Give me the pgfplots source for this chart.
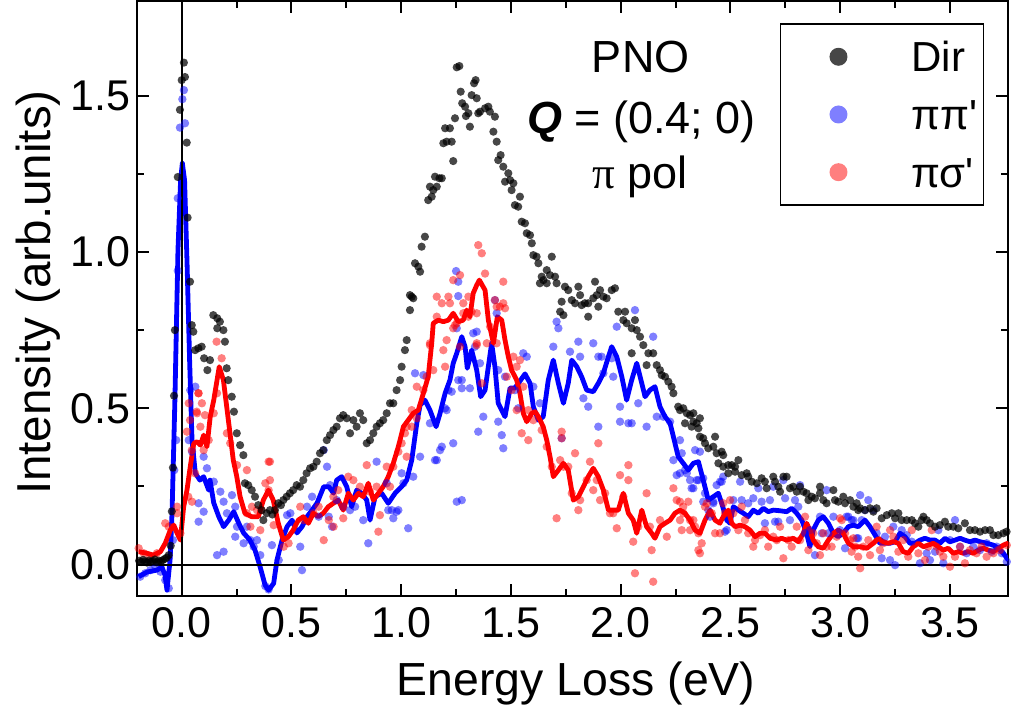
\documentclass[border=0pt]{standalone}
\usepackage{pgfplots}
\usepackage{pgfplotstable}
\pgfplotsset{compat=1.18}
\usepackage{fontspec}
\setmainfont{Liberation Sans}
\newfontfamily\plainsans{Liberation Sans}
\newfontfamily\serifgr{Liberation Serif}

\pgfplotstableread{
x y
-0.194 0.012
-0.185 0.008
-0.176 0.015
-0.167 0.010
-0.158 0.006
-0.149 0.013
-0.140 0.009
-0.131 0.011
-0.122 0.016
-0.113 0.007
-0.104 0.012
-0.095 0.010
-0.086 0.014
-0.077 0.018
-0.068 0.022
-0.059 0.030
-0.050 0.060
-0.045 0.170
-0.040 0.310
-0.035 0.540
-0.031 0.750
-0.018 1.240
-0.008 1.455
0.000 1.550
0.010 1.606
0.015 1.560
0.023 1.350
0.027 1.110
0.038 0.905
0.046 0.766
0.053 0.745
0.061 0.686
0.076 0.692
0.091 0.697
0.102 0.660
0.117 0.622
0.129 0.654
0.144 0.798
0.162 0.788
0.162 0.756
0.174 0.777
0.190 0.750
0.197 0.713
0.205 0.628
0.212 0.590
0.228 0.537
0.238 0.489
0.251 0.420
0.266 0.382
0.281 0.350
0.288 0.260
0.303 0.254
0.319 0.238
0.334 0.217
0.349 0.190
0.364 0.174
0.372 0.142
0.387 0.164
0.402 0.174
0.413 0.160
0.425 0.174
0.440 0.196
0.452 0.190
0.463 0.206
0.478 0.217
0.493 0.228
0.508 0.238
0.524 0.254
0.539 0.249
0.554 0.270
0.569 0.292
0.585 0.308
0.600 0.313
0.615 0.329
0.630 0.356
0.645 0.366
0.661 0.398
0.676 0.414
0.691 0.430
0.706 0.441
0.721 0.468
0.736 0.478
0.752 0.468
0.767 0.420
0.782 0.462
0.797 0.441
0.812 0.484
0.827 0.462
0.843 0.388
0.858 0.398
0.873 0.420
0.888 0.441
0.903 0.452
0.918 0.462
0.934 0.484
0.949 0.516
0.964 0.516
0.979 0.558
0.995 0.590
1.002 0.633
1.017 0.686
1.025 0.718
1.040 0.814
1.040 0.862
1.048 0.857
1.055 0.852
1.063 0.964
1.078 0.953
1.086 0.937
1.093 1.017
1.108 1.049
1.123 1.166
1.131 1.209
1.139 1.177
1.146 1.198
1.154 1.241
1.162 1.209
1.174 1.236
1.185 1.236
1.192 1.348
1.200 1.396
1.207 1.353
1.222 1.396
1.230 1.353
1.237 1.291
1.245 1.428
1.253 1.591
1.265 1.595
1.271 1.513
1.278 1.476
1.291 1.465
1.295 1.435
1.306 1.444
1.313 1.401
1.321 1.502
1.332 1.540
1.339 1.550
1.344 1.492
1.351 1.444
1.359 1.449
1.382 1.460
1.397 1.465
1.404 1.449
1.420 1.385
1.427 1.433
1.435 1.353
1.442 1.294
1.453 1.310
1.465 1.273
1.473 1.225
1.488 1.252
1.496 1.230
1.503 1.198
1.511 1.220
1.518 1.150
1.533 1.145
1.541 1.177
1.549 1.097
1.564 1.092
1.572 1.060
1.587 1.054
1.595 1.028
1.602 0.990
1.617 0.985
1.625 0.964
1.632 0.900
1.640 0.921
1.648 0.910
1.663 0.942
1.663 0.900
1.678 0.926
1.686 0.985
1.701 0.921
1.708 0.900
1.724 0.809
1.731 0.841
1.739 0.798
1.746 0.889
1.761 0.878
1.777 0.846
1.792 0.836
1.807 0.889
1.815 0.862
1.822 0.830
1.837 0.836
1.852 0.836
1.852 0.793
1.875 0.852
1.883 0.905
1.891 0.862
1.898 0.825
1.906 0.878
1.921 0.857
1.936 0.852
1.959 0.878
1.974 0.884
1.989 0.809
2.012 0.782
2.020 0.809
2.027 0.772
2.050 0.756
2.050 0.676
2.065 0.782
2.073 0.750
2.088 0.729
2.103 0.702
2.118 0.638
2.126 0.676
2.148 0.676
2.164 0.638
2.179 0.622
2.187 0.606
2.202 0.601
2.217 0.585
2.232 0.569
2.240 0.548
2.262 0.505
2.270 0.494
2.285 0.500
2.293 0.452
2.301 0.484
2.316 0.478
2.323 0.441
2.331 0.484
2.331 0.457
2.346 0.452
2.354 0.436
2.361 0.468
2.361 0.409
2.376 0.404
2.384 0.388
2.399 0.372
2.422 0.377
2.430 0.409
2.437 0.356
2.445 0.324
2.460 0.361
2.467 0.350
2.467 0.313
2.490 0.318
2.490 0.292
2.506 0.318
2.521 0.313
2.521 0.297
2.536 0.334
2.551 0.286
2.574 0.292
2.581 0.281
2.597 0.265
2.620 0.260
2.642 0.276
2.657 0.265
2.665 0.244
2.695 0.281
2.703 0.265
2.718 0.249
2.726 0.233
2.741 0.281
2.756 0.281
2.771 0.244
2.786 0.249
2.802 0.233
2.817 0.249
2.832 0.233
2.847 0.228
2.855 0.206
2.870 0.217
2.885 0.212
2.908 0.249
2.908 0.228
2.923 0.206
2.938 0.196
2.969 0.238
2.976 0.206
2.991 0.201
3.014 0.217
3.022 0.196
3.045 0.206
3.060 0.185
3.075 0.196
3.082 0.174
3.091 0.180
3.113 0.174
3.136 0.180
3.151 0.169
3.166 0.180
3.189 0.148
3.212 0.158
3.235 0.164
3.250 0.148
3.265 0.164
3.280 0.142
3.303 0.142
3.326 0.142
3.341 0.132
3.356 0.121
3.371 0.142
3.379 0.153
3.394 0.142
3.409 0.132
3.432 0.121
3.454 0.126
3.477 0.137
3.492 0.121
3.515 0.121
3.538 0.116
3.568 0.132
3.591 0.110
3.614 0.110
3.637 0.105
3.660 0.110
3.682 0.110
3.698 0.094
3.720 0.094
3.743 0.100
3.758 0.105
}\dirdata

\pgfplotstableread{
x y
-0.189 -0.039
-0.166 -0.028
-0.143 -0.018
-0.120 -0.007
-0.097 -0.023
-0.075 -0.050
-0.059 -0.076
-0.040 0.078
-0.034 0.302
-0.025 0.398
-0.018 1.172
-0.008 1.398
0.015 1.412
0.003 1.489
0.010 1.518
-0.018 0.940
0.039 0.558
0.062 0.569
0.032 0.398
0.047 0.361
0.100 0.345
0.077 0.196
0.115 0.308
0.100 0.169
0.077 0.137
0.146 0.265
0.176 0.233
0.191 0.201
0.161 0.030
0.191 0.041
0.206 0.164
0.229 0.222
0.244 0.185
0.252 0.121
0.244 0.089
0.282 0.068
0.297 0.121
0.313 0.078
0.328 0.057
0.343 0.078
0.358 0.030
0.381 -0.069
0.396 -0.080
0.411 0.062
0.442 0.014
0.480 0.158
0.495 0.164
0.540 0.057
0.548 -0.018
0.571 0.185
0.594 0.217
0.624 0.153
0.647 0.366
0.662 0.313
0.670 0.153
0.685 0.121
0.676 0.254
0.706 0.206
0.736 0.185
0.767 0.174
0.790 0.185
0.827 0.142
0.850 0.068
0.888 0.329
0.934 0.260
0.957 0.174
0.979 0.169
1.002 0.292
1.032 0.116
1.055 0.281
1.063 0.612
1.101 0.606
1.131 0.452
1.185 0.377
1.162 0.334
1.200 0.500
1.215 0.558
1.237 0.388
1.253 0.756
1.260 0.590
1.276 0.564
1.313 0.564
1.336 0.697
1.344 0.745
1.250 0.939
1.260 0.905
1.260 0.859
1.253 0.201
1.276 0.206
0.941 0.174
0.964 0.148
0.987 0.174
1.010 0.260
1.086 0.345
1.154 0.334
1.177 0.366
1.207 0.494
1.230 0.553
1.276 0.590
1.328 0.740
1.359 0.644
1.374 0.473
1.351 0.425
1.442 0.457
1.458 0.414
1.465 0.372
1.427 0.846
1.435 0.804
1.442 0.622
1.473 0.601
1.518 0.558
1.533 0.500
1.556 0.676
1.572 0.665
1.602 0.569
1.632 0.516
1.693 0.697
1.708 0.777
1.716 0.756
1.731 0.404
1.769 0.681
1.807 0.713
1.815 0.665
1.830 0.532
1.852 0.505
1.875 0.708
1.898 0.665
1.898 0.441
1.913 0.665
1.921 0.612
1.959 0.660
1.966 0.601
1.982 0.761
1.997 0.505
1.997 0.457
2.035 0.452
2.050 0.452
2.065 0.814
2.080 0.516
2.118 0.441
2.148 0.729
2.164 0.473
2.194 0.473
2.225 0.457
2.240 0.334
2.255 0.286
2.278 0.356
2.293 0.302
2.316 0.270
2.323 0.244
2.354 0.270
2.376 0.276
2.399 0.174
2.422 0.201
2.453 0.265
2.467 0.281
2.270 0.398
2.339 0.366
2.361 0.361
2.301 0.292
2.270 0.292
2.331 0.244
2.346 0.270
2.376 0.201
2.384 0.228
2.437 0.254
2.460 0.265
2.422 0.196
2.407 0.153
2.483 0.110
2.475 0.105
2.513 0.206
2.544 0.265
2.551 0.206
2.581 0.196
2.604 0.212
2.627 0.244
2.642 0.201
2.657 0.132
2.680 0.206
2.695 0.249
2.703 0.137
2.718 0.137
2.741 0.270
2.749 0.212
2.771 0.142
2.794 0.206
2.809 0.185
2.817 0.254
2.840 0.100
2.862 0.110
2.885 0.030
2.908 0.153
2.916 0.100
2.938 0.238
2.946 0.100
2.969 0.153
2.999 0.110
3.037 0.153
3.060 0.142
3.082 0.084
3.091 0.222
3.128 0.206
3.113 0.174
3.029 0.153
3.052 0.142
3.098 0.142
3.151 0.174
3.022 0.052
3.075 0.084
3.166 0.100
3.189 0.020
3.227 0.014
3.250 -0.002
3.204 0.089
3.242 0.121
3.280 0.110
3.303 0.094
3.326 0.073
3.363 0.004
3.394 0.036
3.409 0.014
3.432 0.041
3.447 0.110
3.470 0.004
3.500 0.078
3.523 0.142
3.546 0.057
3.576 0.036
3.606 0.057
3.637 0.046
3.667 0.068
3.690 0.041
3.713 0.057
3.736 0.036
3.759 0.009
}\ppdata

\pgfplotstableread{
x y
-0.196 0.052
-0.173 0.036
-0.143 0.025
-0.113 0.036
-0.075 0.132
-0.059 0.121
-0.021 0.185
-0.021 0.164
-0.006 0.100
0.024 0.425
0.047 0.201
0.032 0.516
0.070 0.484
0.077 0.548
0.092 0.516
0.085 0.441
0.100 0.366
0.123 0.398
0.146 0.484
0.161 0.548
0.206 0.420
0.221 0.388
0.252 0.318
0.297 0.302
0.320 0.185
0.343 0.174
0.297 0.164
0.313 0.121
0.358 0.110
0.396 0.329
0.381 0.260
0.396 0.238
0.419 0.126
0.465 0.057
0.487 0.068
0.540 0.185
0.556 0.142
0.601 0.164
0.624 0.185
0.647 0.078
0.670 0.142
0.692 0.121
0.159 0.713
0.182 0.660
0.076 0.548
0.068 0.489
0.038 0.462
0.106 0.478
0.046 0.366
0.061 0.292
0.030 0.217
0.402 0.329
0.364 0.174
0.402 0.270
0.691 0.217
0.713 0.238
0.736 0.185
0.736 0.148
0.759 0.281
0.782 0.270
0.812 0.249
0.843 0.318
0.858 0.233
0.888 0.249
0.896 0.105
0.903 0.158
0.934 0.313
0.949 0.249
0.964 0.313
0.987 0.361
1.002 0.388
1.017 0.420
1.025 0.441
1.048 0.494
1.048 0.441
1.071 0.468
1.025 0.345
1.071 0.569
1.101 0.558
1.116 0.601
1.131 0.708
1.146 0.622
1.162 0.793
1.192 0.686
1.200 0.633
1.207 0.718
1.237 0.756
1.253 0.772
1.268 0.697
1.283 0.836
1.306 0.793
1.344 0.702
1.367 0.580
1.390 0.708
1.435 0.825
1.465 0.836
1.481 0.601
1.526 0.633
1.549 0.420
1.579 0.398
1.526 0.494
1.351 1.022
1.367 0.996
1.237 0.910
1.268 0.926
1.382 0.931
1.162 0.857
1.215 0.857
1.306 0.857
1.185 0.836
1.222 0.836
1.283 0.804
1.321 0.809
1.344 0.804
1.427 0.846
1.450 0.825
1.465 0.905
1.473 0.820
1.245 0.766
1.131 0.702
1.405 0.761
1.435 0.708
1.344 0.708
1.511 0.665
1.541 0.654
1.503 0.558
1.556 0.569
1.579 0.494
1.602 0.462
1.640 0.430
1.731 0.425
1.731 0.404
1.663 0.377
1.686 0.313
1.724 0.334
1.739 0.313
1.761 0.313
1.792 0.356
1.777 0.228
1.815 0.206
1.807 0.174
1.708 0.148
1.845 0.270
1.860 0.329
1.898 0.388
1.891 0.270
1.875 0.238
1.906 0.206
1.929 0.228
1.951 0.164
1.966 0.164
1.982 0.116
1.997 0.286
2.012 0.217
2.035 0.318
2.035 0.270
2.057 0.073
2.065 -0.028
2.080 0.121
2.118 0.228
2.133 0.121
2.141 0.046
2.148 -0.055
2.179 0.142
2.210 0.089
2.240 0.244
2.255 0.206
2.270 0.142
2.285 0.185
2.316 0.142
2.339 0.121
2.354 0.046
2.369 0.068
2.384 0.185
2.407 0.164
2.430 0.100
2.452 0.100
2.475 0.164
2.270 0.201
2.308 0.201
2.285 0.164
2.331 0.142
2.316 0.110
2.278 0.110
2.354 0.100
2.361 0.036
2.392 0.196
2.415 0.164
2.467 0.196
2.498 0.206
2.513 0.164
2.536 0.110
2.551 0.185
2.566 0.142
2.581 0.100
2.604 0.057
2.612 0.078
2.635 0.094
2.657 0.110
2.672 0.057
2.695 0.089
2.711 0.078
2.726 0.121
2.741 0.020
2.764 0.078
2.779 0.057
2.802 0.121
2.817 0.078
2.840 0.153
2.855 0.046
2.877 0.100
2.893 0.068
2.908 0.030
2.923 0.100
2.938 0.057
2.961 0.057
2.984 0.089
3.007 0.142
3.022 0.100
3.045 0.078
3.068 0.057
2.999 0.148
3.060 0.084
3.052 0.041
3.082 0.025
3.091 -0.012
3.105 0.057
3.136 0.030
3.128 0.078
3.166 0.121
3.181 0.046
3.196 0.068
3.227 0.110
3.242 0.089
3.265 0.041
3.287 0.078
3.310 0.025
3.326 0.110
3.356 0.036
3.386 0.014
3.401 0.057
3.417 0.110
3.439 0.057
3.454 0.041
3.470 0.025
3.500 -0.007
3.523 0.025
3.546 0.057
3.568 0.004
3.591 0.046
3.621 0.036
3.644 0.057
3.667 0.025
3.698 0.036
3.728 0.046
3.759 0.062
}\psdata

\pgfplotstableread{
x y
-0.196 -0.039
-0.158 -0.024
-0.113 -0.018
-0.090 -0.008
-0.076 -0.034
-0.067 -0.082
-0.053 0.014
-0.044 0.165
-0.031 0.526
-0.017 1.006
-0.005 1.230
0.003 1.284
0.013 1.230
0.024 0.974
0.036 0.654
0.047 0.398
0.062 0.292
0.083 0.270
0.100 0.281
0.123 0.238
0.129 0.270
0.146 0.197
0.169 0.153
0.191 0.121
0.214 0.142
0.237 0.169
0.260 0.132
0.282 0.101
0.311 0.078
0.334 0.046
0.357 -0.007
0.380 -0.066
0.396 -0.082
0.419 -0.060
0.434 0.014
0.457 0.078
0.480 0.121
0.503 0.142
0.525 0.101
0.548 0.121
0.571 0.153
0.594 0.174
0.617 0.197
0.647 0.249
0.670 0.249
0.692 0.228
0.706 0.270
0.729 0.281
0.752 0.249
0.774 0.185
0.797 0.238
0.820 0.228
0.843 0.206
0.858 0.142
0.881 0.217
0.911 0.228
0.941 0.196
0.972 0.228
1.002 0.249
1.025 0.270
1.048 0.334
1.071 0.452
1.086 0.510
1.108 0.526
1.131 0.494
1.159 0.441
1.177 0.484
1.200 0.548
1.222 0.590
1.237 0.644
1.253 0.676
1.276 0.729
1.291 0.697
1.301 0.628
1.321 0.686
1.344 0.622
1.362 0.537
1.382 0.558
1.397 0.633
1.412 0.708
1.427 0.633
1.442 0.516
1.458 0.494
1.473 0.473
1.496 0.565
1.518 0.565
1.541 0.587
1.564 0.610
1.587 0.580
1.602 0.505
1.625 0.462
1.647 0.473
1.670 0.590
1.693 0.654
1.716 0.580
1.739 0.516
1.761 0.580
1.777 0.654
1.800 0.633
1.822 0.601
1.845 0.558
1.875 0.553
1.898 0.580
1.921 0.612
1.944 0.665
1.959 0.697
1.982 0.665
2.005 0.601
2.027 0.526
2.050 0.590
2.073 0.644
2.096 0.580
2.111 0.537
2.133 0.558
2.156 0.569
2.179 0.505
2.202 0.473
2.225 0.452
2.240 0.409
2.262 0.345
2.285 0.324
2.308 0.302
2.331 0.324
2.354 0.329
2.376 0.270
2.399 0.206
2.422 0.217
2.445 0.228
2.460 0.196
2.483 0.142
2.498 0.132
2.513 0.185
2.536 0.174
2.559 0.164
2.581 0.153
2.604 0.174
2.627 0.164
2.650 0.180
2.672 0.169
2.695 0.174
2.726 0.172
2.756 0.169
2.779 0.180
2.802 0.164
2.825 0.142
2.847 0.100
2.862 0.057
2.877 0.110
2.900 0.142
2.923 0.153
2.946 0.132
2.969 0.100
2.991 0.089
3.014 0.100
3.037 0.121
3.060 0.126
3.082 0.121
3.113 0.142
3.136 0.121
3.159 0.094
3.181 0.068
3.204 0.068
3.227 0.068
3.250 0.073
3.272 0.100
3.295 0.089
3.318 0.068
3.341 0.068
3.363 0.078
3.386 0.084
3.409 0.078
3.432 0.078
3.454 0.068
3.477 0.084
3.500 0.073
3.523 0.078
3.546 0.084
3.568 0.078
3.591 0.073
3.614 0.078
3.637 0.073
3.667 0.068
3.698 0.062
3.720 0.052
3.743 0.036
3.766 0.014
}\ppline

\pgfplotstableread{
x y
-0.196 0.041
-0.158 0.036
-0.128 0.030
-0.097 0.041
-0.075 0.068
-0.052 0.110
-0.036 0.126
-0.021 0.100
-0.006 0.078
0.009 0.185
0.024 0.238
0.039 0.313
0.055 0.388
0.070 0.393
0.085 0.382
0.100 0.414
0.115 0.377
0.130 0.473
0.146 0.526
0.161 0.590
0.171 0.633
0.190 0.590
0.205 0.505
0.220 0.420
0.235 0.334
0.251 0.281
0.266 0.217
0.288 0.164
0.319 0.153
0.349 0.153
0.372 0.206
0.395 0.238
0.417 0.206
0.440 0.132
0.463 0.078
0.486 0.089
0.508 0.110
0.531 0.142
0.554 0.153
0.577 0.132
0.600 0.164
0.622 0.153
0.645 0.164
0.668 0.185
0.691 0.196
0.713 0.206
0.736 0.174
0.759 0.228
0.782 0.206
0.805 0.228
0.827 0.217
0.850 0.260
0.873 0.206
0.896 0.228
0.918 0.249
0.941 0.281
0.964 0.324
0.987 0.377
1.010 0.441
1.032 0.462
1.055 0.484
1.078 0.494
1.101 0.548
1.123 0.601
1.139 0.708
1.146 0.772
1.169 0.782
1.192 0.777
1.215 0.782
1.237 0.804
1.260 0.777
1.283 0.782
1.298 0.814
1.313 0.793
1.328 0.868
1.344 0.894
1.356 0.910
1.382 0.878
1.397 0.782
1.420 0.708
1.438 0.793
1.458 0.782
1.473 0.718
1.488 0.665
1.503 0.622
1.526 0.590
1.541 0.548
1.556 0.484
1.572 0.457
1.595 0.484
1.610 0.489
1.625 0.473
1.647 0.441
1.663 0.398
1.678 0.345
1.693 0.281
1.716 0.302
1.739 0.324
1.761 0.302
1.784 0.206
1.807 0.217
1.830 0.249
1.852 0.281
1.875 0.308
1.898 0.281
1.921 0.238
1.944 0.174
1.966 0.174
1.989 0.174
2.012 0.228
2.035 0.164
2.057 0.142
2.073 0.100
2.096 0.174
2.118 0.121
2.141 0.100
2.156 0.084
2.179 0.121
2.202 0.132
2.225 0.142
2.247 0.164
2.270 0.174
2.293 0.164
2.316 0.142
2.339 0.110
2.361 0.100
2.384 0.142
2.407 0.174
2.430 0.142
2.452 0.132
2.467 0.153
2.490 0.174
2.506 0.132
2.521 0.121
2.544 0.126
2.566 0.121
2.589 0.110
2.612 0.089
2.635 0.100
2.657 0.100
2.680 0.084
2.711 0.078
2.733 0.084
2.756 0.078
2.786 0.084
2.809 0.073
2.832 0.100
2.847 0.132
2.862 0.110
2.877 0.078
2.900 0.057
2.923 0.052
2.946 0.078
2.969 0.100
2.991 0.110
3.014 0.100
3.037 0.068
3.060 0.057
3.091 0.057
3.121 0.052
3.151 0.068
3.174 0.084
3.196 0.073
3.219 0.068
3.242 0.073
3.265 0.068
3.287 0.041
3.310 0.036
3.333 0.057
3.356 0.068
3.379 0.057
3.401 0.062
3.424 0.068
3.447 0.057
3.470 0.046
3.492 0.052
3.515 0.036
3.538 0.041
3.561 0.036
3.584 0.041
3.606 0.036
3.629 0.046
3.652 0.052
3.675 0.046
3.698 0.041
3.720 0.052
3.743 0.062
3.766 0.068
}\psline

\pgfplotsset{
  dirstyle/.style={only marks, mark=*, mark options={draw opacity=0, fill=black, fill opacity=0.72}},
  ppstyle/.style={only marks, mark=*, mark options={draw opacity=0, fill=blue, fill opacity=0.5}},
  psstyle/.style={only marks, mark=*, mark options={draw opacity=0, fill=red, fill opacity=0.5}},
}

\begin{document}
\begin{tikzpicture}
\path[use as bounding box] (-68.65pt,-64pt) rectangle (436.85pt,298pt);
\begin{axis}[
  at={(0,0)}, anchor=south west,
  scale only axis,
  width=435.35pt, height=297.5pt,
  xmin=-0.2023, xmax=3.7645,
  ymin=-0.1008, ymax=1.8032,
  xtick={0,0.5,1,1.5,2,2.5,3,3.5},
  ytick={0,0.5,1,1.5},
  minor x tick num=1,
  minor y tick num=1,
  major tick length=6pt,
  minor tick length=3.5pt,
  tick style={black, line width=1pt},
  axis line style={black, line width=1pt},
  tick label style={font=\fontsize{21.5}{21.5}\selectfont},
  /pgf/number format/assume math mode=true,
  /pgf/number format/fixed,
  /pgf/number format/precision=1,
  /pgf/number format/fixed zerofill,
  xticklabel style={yshift=-2.3pt},
  xlabel={Energy Loss (eV)},
  ylabel={Intensity (arb.units)},
  xlabel style={font=\fontsize{23.2}{23.2}\selectfont, at={(axis description cs:0.504,-0.168)}, anchor=base},
  ylabel style={font=\fontsize{23.8}{23.8}\selectfont, at={(axis description cs:-0.1002,0.51)}, anchor=base},
  legend style={at={(axis description cs:0.738,0.9625)}, anchor=north west,
    draw=black, line width=0.6pt, inner xsep=3pt, inner ysep=2pt,
    font=\plainsans\fontsize{21}{21}\selectfont,
    nodes={inner sep=0pt, anchor=base west},
    column sep=0pt, row sep=0pt},
  legend cell align=left,
  legend image code/.code={
    \path[draw=none, fill=none] (0pt,-6.925pt) rectangle (62.5pt,21.925pt);
    \draw[#1, mark size=4.5pt] plot coordinates {(26pt,7.5pt)};
  },
]
\addlegendimage{dirstyle}
\addlegendentry{Dir}
\addlegendimage{ppstyle}
\addlegendentry{ππ'}
\addlegendimage{psstyle}
\addlegendentry{πσ'}
\addplot[ppstyle, mark size=2.1pt, forget plot] table {\ppdata};
\addplot[psstyle, mark size=2.1pt, forget plot] table {\psdata};
\addplot[blue, line width=2.4pt, line join=round, forget plot] table {\ppline};
\addplot[red, line width=2.4pt, line join=round, forget plot] table {\psline};
\addplot[dirstyle, mark size=2.05pt, forget plot] table {\dirdata};
\draw[black, line width=1pt] (axis cs:0,-0.1008) -- (axis cs:0,1.8032);
\draw[black, line width=1pt] (axis cs:-0.2023,0) -- (axis cs:3.7645,0);
\node[anchor=base, font=\fontsize{22.5}{22.5}\selectfont] at (rel axis cs:0.5782,0.8795) {PNO};
\node[anchor=base, font=\fontsize{22.5}{22.5}\selectfont] at (rel axis cs:0.5791,0.7777) {\textbf{\textit{Q}} = (0.4; 0)};
\node[anchor=base, font=\fontsize{22.5}{22.5}\selectfont] at (rel axis cs:0.5773,0.6852) {{\serifgr π} pol};
\end{axis}
\end{tikzpicture}
\end{document}
